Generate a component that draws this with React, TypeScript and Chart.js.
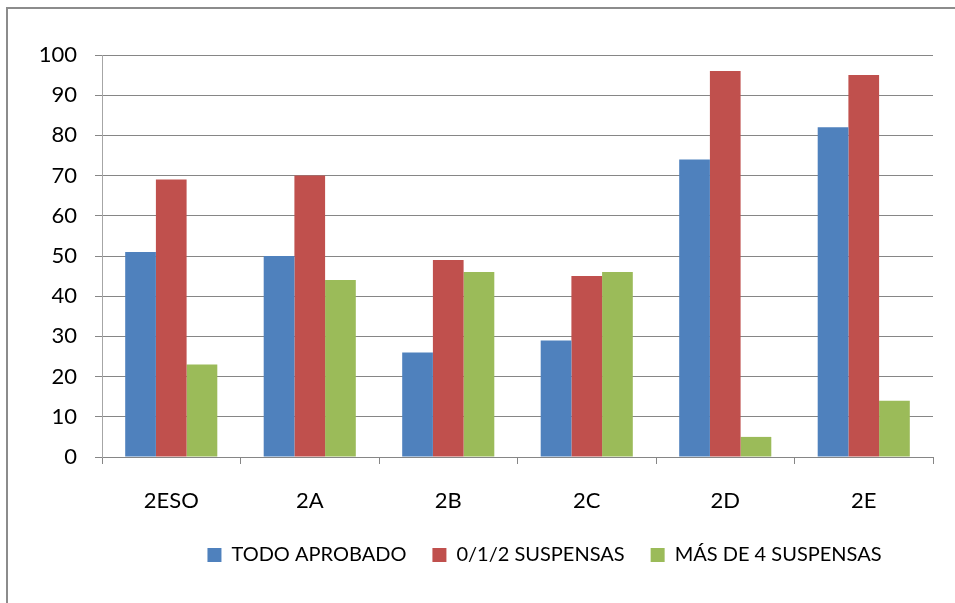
import React, { useEffect, useRef } from "react";
import { Chart, registerables } from "chart.js";

Chart.register(...registerables);

const categories = ["2ESO", "2A", "2B", "2C", "2D", "2E"];
const todoAprobado = [51, 50, 26, 29, 74, 82];
const suspensas012 = [69, 70, 49, 45, 96, 95];
const masDe4 = [23, 44, 46, 46, 5, 14];
const seriesNames = ["TODO APROBADO", "0/1/2 SUSPENSAS", "MÁS DE 4 SUSPENSAS"];
const seriesColors = ["#4F81BD", "#C0504D", "#9BBB59"];

const FONT = "Lato, 'Liberation Sans', sans-serif";

const borderPlugin = {
  id: "outerBorder",
  beforeDraw(chart: any) {
    const ctx = chart.ctx;
    ctx.save();
    ctx.fillStyle = "#ffffff";
    ctx.fillRect(0, 0, chart.width, chart.height);
    ctx.strokeStyle = "#8c8c8c";
    ctx.lineWidth = 2;
    ctx.beginPath();
    ctx.moveTo(7, chart.height);
    ctx.lineTo(7, 8);
    ctx.lineTo(chart.width, 8);
    ctx.stroke();
    ctx.restore();
  },
};

const legendShift = {
  id: "legendShift",
  afterLayout(chart: any) {
    const lg = chart.legend;
    if (lg) {
      lg.left += 78;
      lg.right += 78;
    }
  },
};

export default function App() {
  const ref = useRef<HTMLCanvasElement | null>(null);
  useEffect(() => {
    if (!ref.current) return;
    const data = [todoAprobado, suspensas012, masDe4];
    const chart = new Chart(ref.current, {
      type: "bar",
      data: {
        labels: categories,
        datasets: data.map((d, i) => ({
          label: seriesNames[i],
          data: d,
          backgroundColor: seriesColors[i],
          borderWidth: 0,
          barPercentage: 1,
          categoryPercentage: 0.665,
        })),
      },
      options: {
        animation: false,
        responsive: false,
        maintainAspectRatio: false,
        layout: { padding: { left: 0, top: 55, right: 22, bottom: 28 } },
        plugins: {
          tooltip: { enabled: false },
          legend: {
            position: "bottom",
            labels: {
              boxWidth: 14,
              boxHeight: 14,
              padding: 26,
              color: "#000",
              font: { family: FONT, size: 20 },
            },
          },
        },
        scales: {
          x: {
            grid: {
              display: true,
              drawOnChartArea: false,
              drawTicks: true,
              tickLength: 7,
              offset: true,
              color: "#868686",
            },
            border: { display: true, color: "#868686" },
            ticks: { color: "#000", font: { family: FONT, size: 22 }, padding: 24 },
            afterFit(scale: any) {
              scale.height = 62;
            },
          },
          y: {
            min: 0,
            max: 100,
            ticks: { stepSize: 10, color: "#000", font: { family: FONT, size: 22 }, padding: 18 },
            grid: { color: "#868686", tickLength: 7, drawTicks: true },
            border: { display: true, color: "#a6a6a6" },
            afterFit(scale: any) {
              scale.width = 102;
            },
          },
        },
      },
      plugins: [borderPlugin, legendShift],
    });
    return () => chart.destroy();
  }, []);
  return (
    <div style={{ position: "fixed", left: 0, top: 0, width: 955, height: 603 }}>
      <canvas ref={ref} width={955} height={603} style={{ width: 955, height: 603 }} />
    </div>
  );
}
